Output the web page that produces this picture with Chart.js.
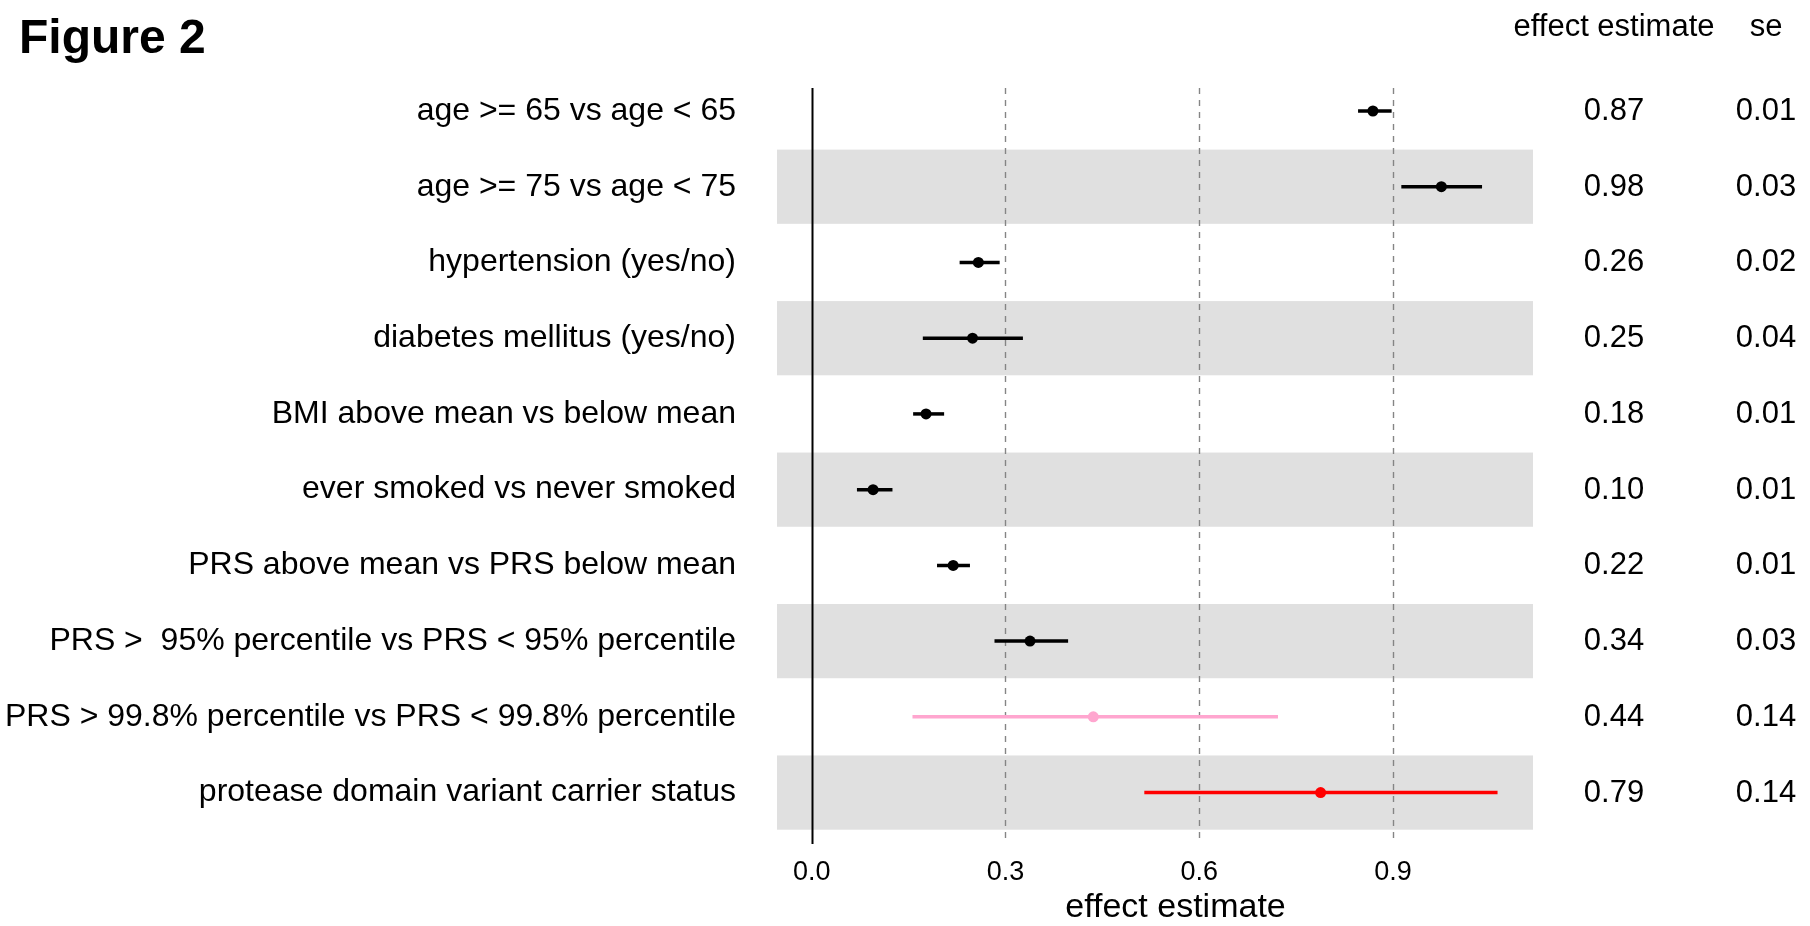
<!DOCTYPE html>
<html>
<head>
<meta charset="utf-8">
<script src="https://cdn.jsdelivr.net/npm/chart.js@4/dist/chart.umd.min.js"></script>
<style>
html,body{margin:0;padding:0;background:#fff;}
#c{display:block;}
</style>
</head>
<body>
<canvas id="c" width="1810" height="926"></canvas>
<script>
// ---- data ----
const labels = [
  'age >= 65 vs age < 65',
  'age >= 75 vs age < 75',
  'hypertension (yes/no)',
  'diabetes mellitus (yes/no)',
  'BMI above mean vs below mean',
  'ever smoked vs never smoked',
  'PRS above mean vs PRS below mean',
  'PRS >  95% percentile vs PRS < 95% percentile',
  'PRS > 99.8% percentile vs PRS < 99.8% percentile',
  'protease domain variant carrier status'
];
const estimate = [0.869, 0.975, 0.258, 0.249, 0.177, 0.095, 0.219, 0.338, 0.436, 0.788];
const lower    = [0.846, 0.913, 0.229, 0.172, 0.157, 0.070, 0.194, 0.283, 0.156, 0.515];
const upper    = [0.898, 1.038, 0.291, 0.327, 0.205, 0.125, 0.245, 0.397, 0.722, 1.062];
const estimateText = ['0.87','0.98','0.26','0.25','0.18','0.10','0.22','0.34','0.44','0.79'];
const seText       = ['0.01','0.03','0.02','0.04','0.01','0.01','0.01','0.03','0.14','0.14'];
const xTicks = [0, 0.3, 0.6, 0.9];
const titleText = 'Figure 2';
const axisTitle = 'effect estimate';
const colHeaders = ['effect estimate', 'se'];

// ---- styles ----
const rowColors = ['#000','#000','#000','#000','#000','#000','#000','#000','#FFA6CF','#FF0000'];
const FONT = '"Liberation Sans", Arial, Helvetica, sans-serif';

const ciDatasets = labels.map((lab, i) => ({
  type: 'line',
  label: lab,
  data: [{x: lower[i], y: i + 1}, {x: upper[i], y: i + 1}],
  borderColor: rowColors[i],
  borderWidth: 3.5,
  pointRadius: 0,
  fill: false,
  order: 2
}));
const pointDataset = {
  type: 'line',
  label: 'estimate',
  data: estimate.map((v, i) => ({x: v, y: i + 1})),
  showLine: false,
  pointRadius: 5.5,
  pointHoverRadius: 5.5,
  pointBackgroundColor: rowColors,
  pointBorderColor: rowColors,
  pointBorderWidth: 0,
  order: 1
};

const bandsPlugin = {
  id: 'bands',
  beforeDraw(chart) {
    const {ctx, chartArea: a, scales: {y}} = chart;
    ctx.save();
    ctx.fillStyle = '#fff';
    ctx.fillRect(0, 0, chart.width, chart.height);
    ctx.fillStyle = '#E0E0E0';
    labels.forEach((_, i) => {
      if (i % 2 === 1) {
        const t = y.getPixelForValue(i + 1 - 0.49);
        const b = y.getPixelForValue(i + 1 + 0.49);
        ctx.fillRect(a.left, t, a.right - a.left, b - t);
      }
    });
    ctx.restore();
  },
  beforeDatasetsDraw(chart) {
    const {ctx, chartArea: a, scales: {x}} = chart;
    ctx.save();
    xTicks.forEach(v => {
      const px = Math.round(x.getPixelForValue(v)) + 0.5;
      ctx.beginPath();
      if (v === 0) {
        ctx.strokeStyle = '#000';
        ctx.lineWidth = 2;
        ctx.setLineDash([]);
      } else {
        ctx.strokeStyle = '#858585';
        ctx.lineWidth = 1.4;
        ctx.setLineDash([6, 6]);
      }
      ctx.moveTo(px, a.top);
      ctx.lineTo(px, a.bottom);
      ctx.stroke();
    });
    ctx.restore();
  },
  afterDraw(chart) {
    const {ctx, scales: {y}} = chart;
    ctx.save();
    ctx.fillStyle = '#000';
    // figure title
    ctx.font = 'bold 48px ' + FONT;
    ctx.textAlign = 'left';
    ctx.textBaseline = 'alphabetic';
    ctx.fillText(titleText, 19, 53);
    // column headers
    ctx.font = '31px ' + FONT;
    ctx.textAlign = 'center';
    ctx.fillText(colHeaders[0], 1614, 36);
    ctx.fillText(colHeaders[1], 1766, 36);
    // values
    labels.forEach((_, i) => {
      const py = y.getPixelForValue(i + 1);
      ctx.fillText(estimateText[i], 1614, py + 9);
      ctx.fillText(seText[i], 1766, py + 9);
    });
    // axis title
    ctx.font = '34px ' + FONT;
    ctx.fillText(axisTitle, 1175.5, 917);
    ctx.restore();
  }
};

new Chart(document.getElementById('c'), {
  type: 'line',
  data: {datasets: [...ciDatasets, pointDataset]},
  options: {
    responsive: false,
    animation: false,
    devicePixelRatio: 1,
    layout: {padding: {left: 0, right: 277, top: 88, bottom: 0}},
    plugins: {legend: {display: false}, tooltip: {enabled: false}},
    events: [],
    scales: {
      x: {
        type: 'linear',
        min: -0.0538,
        max: 1.1169,
        grid: {display: false},
        border: {display: false},
        afterBuildTicks: s => { s.ticks = xTicks.map(v => ({value: v})); },
        afterFit: s => { s.height = 82; },
        ticks: {
          padding: 4,
          autoSkip: false,
          maxRotation: 0,
          color: '#000',
          font: {family: FONT, size: 27},
          callback: (v, i) => xTicks[i].toFixed(1)
        }
      },
      y: {
        type: 'linear',
        reverse: true,
        min: 0.6963,
        max: 10.679,
        grid: {display: false},
        border: {display: false},
        afterBuildTicks: s => { s.ticks = labels.map((_, i) => ({value: i + 1})); },
        afterFit: s => { s.width = 777; },
        ticks: {
          padding: 33,
          autoSkip: false,
          color: '#000',
          font: {family: FONT, size: 32},
          callback: (v, i) => labels[i]
        }
      }
    }
  },
  plugins: [bandsPlugin]
});
</script>
</body>
</html>
